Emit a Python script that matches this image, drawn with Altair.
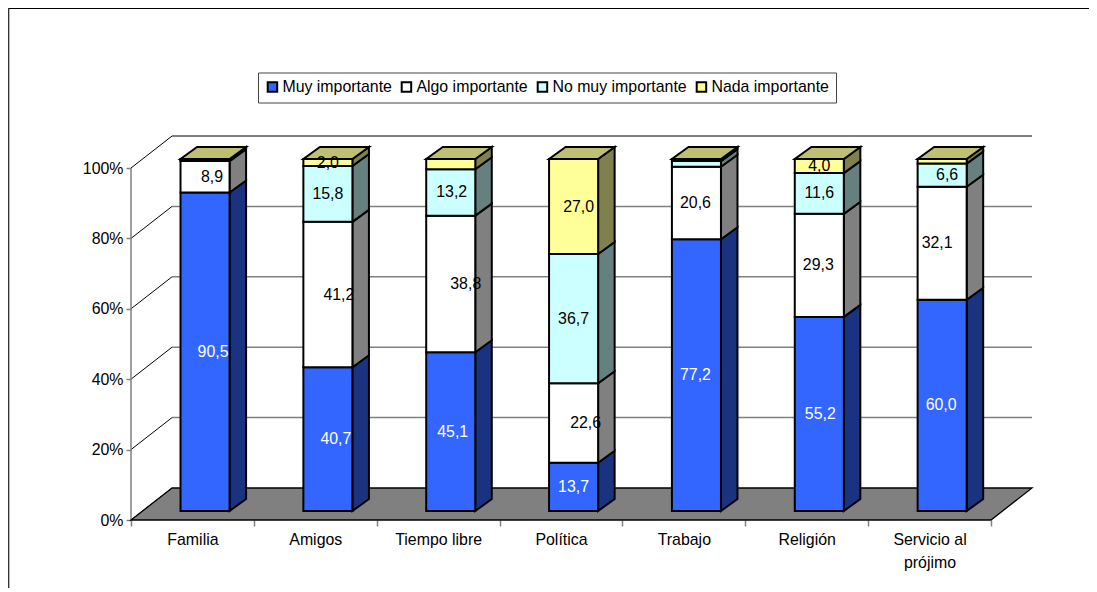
import altair as alt
import pandas as pd

categories = ["Familia", "Amigos", "Tiempo libre", "Política", "Trabajo", "Religión", "Servicio al\nprójimo"]
series = ["Muy importante", "Algo importante", "No muy importante", "Nada importante"]
muy = [90.5, 40.7, 45.1, 13.7, 77.2, 55.2, 60.0]
algo = [8.9, 41.2, 38.8, 22.6, 20.6, 29.3, 32.1]
no_muy = [0.4, 15.8, 13.2, 36.7, 1.6, 11.6, 6.6]
nada = [0.2, 2.0, 2.9, 27.0, 0.6, 4.0, 1.3]
unlabelled = {(0, 2), (0, 3), (2, 3), (4, 2), (4, 3), (6, 3)}
# horizontal drift of each value label, in pixels, per category and series
label_drift = [
    [8, 7, 0, 0], [8, 11, 0, 0], [2, 15, 1, 0], [0, 12, 0, 5],
    [-1, -1, 0, 0], [1, -1, 0, 0], [-1, -5, 5, 0],
]

front_colors = ["#3366FF", "#FFFFFF", "#CCFFFF", "#FFFF99"]
side_colors = ["#1A3380", "#808080", "#668080", "#80804D"]
cap_color = "#BFBF73"
FONT = "Liberation Sans"
FS = 15.9

W, H = 901, 384
PX_X = 122.73
PX_Y = 3.52
WALL_X = 41 / PX_X
WALL_Y = 32 / PX_Y
X_MAX = len(categories) + WALL_X
Y_MAX = 100 + WALL_Y
BAR_W = 49 / PX_X
BAR_DX = 16.5 / PX_X
BAR_DY = 12 / PX_Y
BAR_SHIFT_X = 12.6 / PX_X
BAR_SHIFT_Y = 9 / PX_Y

values = [muy, algo, no_muy, nada]
front, side, cap, labels = [], [], [], []
for i in range(len(categories)):
    x0 = i + 0.5 + BAR_SHIFT_X - BAR_W / 2
    x1 = x0 + BAR_W
    total = sum(v[i] for v in values)
    base = BAR_SHIFT_Y
    for s, name in enumerate(series):
        v = values[s][i]
        top = base + v / total * 100
        front.append(dict(x=x0, x2=x1, y=base, y2=top, serie=name))
        key = f"{i}-{s}"
        side.append(dict(k=key, x=x1, y=base, y2=top, c=side_colors[s]))
        side.append(dict(k=key, x=x1 + BAR_DX, y=base + BAR_DY, y2=top + BAR_DY, c=side_colors[s]))
        if (i, s) not in unlabelled:
            labels.append(dict(x=(x0 + x1) / 2 + label_drift[i][s] / PX_X, y=(base + top) / 2,
                               t=f"{v:.1f}".replace(".", ","), c="#FFFFFF" if s == 0 else "#000000"))
        base = top
    cap.append(dict(k=i, x=x0, x2=x1, y=base))
    cap.append(dict(k=i, x=x0 + BAR_DX, x2=x1 + BAR_DX, y=base + BAR_DY))

ticks_y = [0, 20, 40, 60, 80, 100]
ticks_x = [v / 2 for v in range(2 * len(categories) + 1)]
xs = alt.Scale(domain=[0, X_MAX], nice=False, zero=False)
ys = alt.Scale(domain=[0, Y_MAX], nice=False, zero=False)
names_js = "[" + ",".join("'" + c.replace("\n", "|") + "'" for c in categories) + "]"

x_axis = alt.Axis(
    values=ticks_x, title=None, grid=False, domain=False, tickColor="#808080", tickWidth=1.5, tickSize=6,
    tickOpacity={"condition": {"test": "datum.value % 1 === 0", "value": 1}, "value": 0},
    labelExpr=f"datum.value % 1 === 0 ? '' : split({names_js}[floor(datum.value)], '|')",
    labelFont=FONT, labelFontSize=FS, labelColor="#000000", labelPadding=5, labelLineHeight=23,
    labelOverlap=False, labelBound=False, labelFlush=False, labelBaseline="top",
)
y_axis = alt.Axis(
    values=ticks_y, title=None, grid=False, domain=False, tickColor="#808080", tickWidth=1.5, tickSize=5,
    labelExpr="datum.value + '%'", labelFont=FONT, labelFontSize=FS, labelColor="#000000", labelPadding=3,
)

# Axes carried by a layer of back-wall gridlines
grid_df = pd.DataFrame([dict(x=WALL_X, x2=X_MAX, y=v + WALL_Y, c="#000000" if v == 100 else "#808080",
                             w=1 if v == 100 else 1.5) for v in ticks_y[1:]])
grid = alt.Chart(grid_df).mark_rule().encode(
    x=alt.X("x:Q", scale=xs, axis=x_axis), x2="x2:Q",
    y=alt.Y("y:Q", scale=ys, axis=y_axis),
    color=alt.Color("c:N", scale=None, legend=None),
    strokeWidth=alt.StrokeWidth("w:Q", scale=None, legend=None),
)

diag_df = pd.DataFrame([r for v in ticks_y for r in (dict(k=v, x=0, y=v), dict(k=v, x=WALL_X, y=v + WALL_Y))])
diag = alt.Chart(diag_df).mark_line(color="#000000", strokeWidth=1).encode(
    x=alt.X("x:Q", scale=xs), y=alt.Y("y:Q", scale=ys), detail="k:N")

axis_line = alt.Chart(pd.DataFrame([dict(x=0, y=0, y2=100)])).mark_rule(color="#808080", strokeWidth=1.5).encode(
    x=alt.X("x:Q", scale=xs), y=alt.Y("y:Q", scale=ys), y2="y2:Q")

floor_df = pd.DataFrame([dict(x=0, x2=len(categories), y=0), dict(x=WALL_X, x2=X_MAX, y=WALL_Y)])
floor = alt.Chart(floor_df).mark_area(orient="horizontal", color="#808080", stroke="#000000", strokeWidth=1.3).encode(
    x=alt.X("x:Q", scale=xs), x2="x2:Q", y=alt.Y("y:Q", scale=ys))

side_layer = alt.Chart(pd.DataFrame(side)).mark_area(stroke="#000000", strokeWidth=2, opacity=1).encode(
    x=alt.X("x:Q", scale=xs), y=alt.Y("y:Q", scale=ys), y2="y2:Q", detail="k:N",
    fill=alt.Fill("c:N", scale=None, legend=None))

cap_layer = alt.Chart(pd.DataFrame(cap)).mark_area(orient="horizontal", color=cap_color, stroke="#000000", strokeWidth=2).encode(
    x=alt.X("x:Q", scale=xs), x2="x2:Q", y=alt.Y("y:Q", scale=ys), detail="k:N")

front_layer = alt.Chart(pd.DataFrame(front)).mark_rect(stroke="#000000", strokeWidth=2).encode(
    x=alt.X("x:Q", scale=xs), x2="x2:Q", y=alt.Y("y:Q", scale=ys), y2="y2:Q",
    fill=alt.Fill("serie:N", scale=alt.Scale(domain=series, range=front_colors), sort=series,
                  legend=alt.Legend(
                      orient="none", legendX=127, legendY=-63.5, direction="horizontal", columns=4, title=None,
                      fillColor="#FFFFFF", strokeColor="#444444", padding=6.5, symbolType="square", symbolSize=90,
                      symbolStrokeColor="#000000", symbolStrokeWidth=2, labelFont=FONT, labelFontSize=FS,
                      labelColor="#000000", columnPadding=5, labelOffset=2, labelLimit=200)),
)

text_layer = alt.Chart(pd.DataFrame(labels)).mark_text(font=FONT, fontSize=FS, align="center", baseline="middle").encode(
    x=alt.X("x:Q", scale=xs), y=alt.Y("y:Q", scale=ys), text="t:N",
    color=alt.Color("c:N", scale=None, legend=None))

frame_top = alt.Chart(pd.DataFrame([{"a": 0}])).mark_rule(color="#000000", strokeWidth=1.2).encode(
    x=alt.value(-123), x2=alt.value(958), y=alt.value(-127.6))
frame_left = alt.Chart(pd.DataFrame([{"a": 0}])).mark_rule(color="#333333", strokeWidth=1.5).encode(
    x=alt.value(-122.4), y=alt.value(-128), y2=alt.value(452))

chart = alt.layer(grid, diag, axis_line, floor, side_layer, cap_layer, front_layer, text_layer, frame_top, frame_left).resolve_scale(
    color="independent", fill="independent", strokeWidth="independent"
).properties(
    width=W, height=H, background="#FFFFFF",
    padding={"left": 123, "top": 128, "right": 57, "bottom": 68},
    autosize=alt.AutoSizeParams(type="none"),
).configure_view(stroke=None)

chart.save("out.html", embed_options={"renderer": "svg", "actions": False})
